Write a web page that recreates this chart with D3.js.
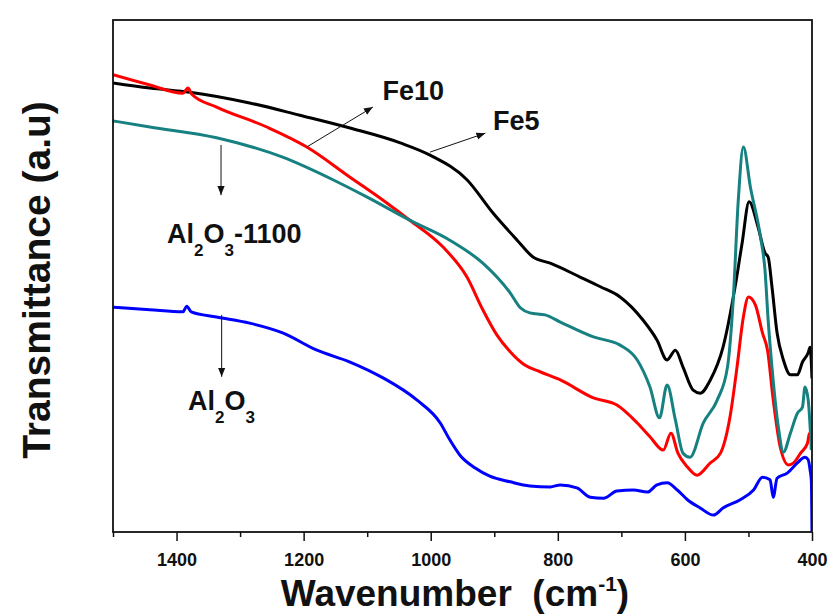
<!DOCTYPE html>
<html>
<head>
<meta charset="utf-8">
<script src="https://cdn.jsdelivr.net/npm/d3@7"></script>
<style>
  body { margin: 0; background: #fff; }
  text { font-family: Arial, "Liberation Sans", sans-serif; font-weight: bold; }
</style>
</head>
<body>
<svg id="chart" width="830" height="614"></svg>
<script>
// FTIR spectra, [wavenumber cm-1, transmittance a.u.]
const fe5 = [[1500,87.7],[1442,86.7],[1379,85.9],[1285,83.8],[1206,81.4],[1127,78.9],[1048,76.0],[1001,73.6],[943,68.8],[902,62.3],[864,57.0],[839,53.7],[812,52.5],[765,49.8],[733,47.9],[702,45.9],[666,41.4],[644,37.5],[628,33.6],[615,35.5],[603,32.2],[587,27.7],[576,27.1],[560,29.7],[540,36.1],[521,47.9],[510,56.4],[499,64.5],[485,59.6],[474,54.5],[469,53.7],[463,47.9],[455,38.9],[445,33.6],[434,30.7],[423,30.7],[415,33.2],[406,35.0],[403,36.1],[400,30.0]];
const fe10 = [[1500,89.3],[1442,87.3],[1390,85.7],[1382,86.7],[1376,85.5],[1337,83.0],[1258,79.1],[1195,75.2],[1127,69.3],[1075,64.8],[1033,60.9],[981,55.7],[943,49.8],[918,43.4],[896,38.5],[875,35.2],[852,32.6],[828,31.3],[796,29.7],[744,26.2],[707,24.8],[675,21.3],[655,18.6],[634,16.0],[622,19.3],[611,15.4],[596,12.7],[581,11.1],[560,13.5],[544,15.4],[529,22.5],[518,32.2],[508,42.0],[500,45.9],[489,44.3],[478,38.9],[470,35.5],[461,25.8],[450,16.6],[437,13.1],[429,13.5],[418,15.4],[407,17.4],[404,19.3],[400,18.0]];
const al1100 = [[1500,80.3],[1442,79.1],[1337,77.0],[1233,73.2],[1154,68.8],[1100,65.4],[1033,60.9],[970,57.0],[918,52.5],[875,46.7],[859,43.8],[844,42.8],[820,42.4],[796,41.0],[744,38.1],[702,36.5],[675,33.6],[655,28.3],[640,22.3],[628,28.7],[615,21.9],[603,15.4],[592,14.6],[571,21.3],[549,25.8],[533,32.2],[524,45.3],[516,64.8],[508,75.2],[497,67.4],[481,57.6],[474,51.2],[469,41.4],[463,32.2],[453,20.5],[445,15.6],[434,19.3],[423,23.2],[415,24.4],[411,28.3],[406,25.8],[401,16.0]];
const al2o3 = [[1500,43.9],[1442,43.4],[1390,43.0],[1384,44.1],[1377,43.0],[1337,42.0],[1285,40.8],[1233,38.9],[1179,35.5],[1127,33.2],[1075,30.1],[1022,25.8],[985,21.3],[970,18.0],[954,15.0],[930,12.5],[907,10.9],[875,9.8],[844,9.0],[812,8.8],[796,9.2],[770,8.6],[749,6.8],[728,6.6],[707,8.0],[681,8.2],[659,7.8],[644,9.2],[628,9.6],[612,8.2],[596,6.3],[576,4.7],[555,3.3],[540,4.7],[513,6.3],[492,8.2],[478,10.7],[466,10.2],[461,6.8],[455,10.5],[439,11.5],[423,13.5],[411,14.6],[406,14.1],[403,12.1],[401,10.0],[400,0]];

const seriesNames = ['Fe5', 'Fe10', 'Al2O3-1100', 'Al2O3'];
const seriesData = [fe5, fe10, al1100, al2o3];
const seriesColors = ['#000000', '#ff0000', '#178080', '#0000ff'];

const majorTicks = [1400, 1200, 1000, 800, 600, 400];
const minorTicks = [1500, 1300, 1100, 900, 700, 500];

const svg = d3.select('#chart');
const plotLeft = 113, plotRight = 812, plotTop = 20, plotBottom = 532;

const x = d3.scaleLinear().domain([1500, 400]).range([plotLeft, plotRight]);
const y = d3.scaleLinear().domain([0, 100]).range([plotBottom, plotTop]);

const defs = svg.append('defs');
defs.append('marker')
    .attr('id', 'arrow')
    .attr('viewBox', '0 0 10 10')
    .attr('refX', 10).attr('refY', 5)
    .attr('markerWidth', 9).attr('markerHeight', 9)
    .attr('markerUnits', 'userSpaceOnUse')
    .attr('orient', 'auto')
    .append('path')
    .attr('d', 'M0,1 L10,5 L0,9 Z')
    .attr('fill', '#111');

defs.append('clipPath').attr('id', 'plot')
    .append('rect')
    .attr('x', plotLeft).attr('y', plotTop)
    .attr('width', plotRight - plotLeft).attr('height', plotBottom - plotTop);

// bottom axis: major + minor ticks
svg.append('g')
    .attr('transform', `translate(0,${plotBottom})`)
    .call(d3.axisBottom(x).tickValues(minorTicks).tickSize(5).tickFormat(''))
    .call(g => g.select('.domain').remove())
    .call(g => g.selectAll('line').attr('stroke', '#111').attr('stroke-width', 1.5));

svg.append('g')
    .attr('transform', `translate(0,${plotBottom})`)
    .call(d3.axisBottom(x).tickValues(majorTicks).tickSize(9).tickPadding(12).tickFormat(d3.format('d')))
    .call(g => g.select('.domain').remove())
    .call(g => g.selectAll('line').attr('stroke', '#111').attr('stroke-width', 1.5))
    .call(g => g.selectAll('text')
        .attr('fill', '#111')
        .style('font-size', '18px'));

const line = d3.line()
    .x(d => x(d[0]))
    .y(d => y(d[1]))
    .curve(d3.curveMonotoneX);

svg.append('g')
    .attr('clip-path', 'url(#plot)')
    .selectAll('path')
    .data(seriesData)
    .enter()
    .append('path')
    .attr('d', line)
    .attr('fill', 'none')
    .attr('stroke', (d, i) => seriesColors[i])
    .attr('stroke-width', 3)
    .attr('stroke-linejoin', 'round');

// frame
svg.append('rect')
    .attr('x', plotLeft).attr('y', plotTop)
    .attr('width', plotRight - plotLeft).attr('height', plotBottom - plotTop)
    .attr('fill', 'none')
    .attr('stroke', '#111')
    .attr('stroke-width', 1.8);

// annotations: arrow from curve to label
const arrows = [
  {from: [1195, 75.2], to: [1091, 83.0]},
  {from: [1001, 74.2], to: [914, 77.9]},
  {from: [1330, 75.6], to: [1330, 65.8]},
  {from: [1329, 42.4], to: [1329, 30.3]}
];
svg.selectAll('.arrow')
    .data(arrows)
    .enter()
    .append('line')
    .attr('class', 'arrow')
    .attr('x1', d => x(d.from[0])).attr('y1', d => y(d.from[1]))
    .attr('x2', d => x(d.to[0])).attr('y2', d => y(d.to[1]))
    .attr('stroke', '#111')
    .attr('stroke-width', 1)
    .attr('marker-end', 'url(#arrow)');

const labels = [
  {pos: [1076, 84.4], parts: [['Fe10', 0]]},
  {pos: [902, 78.5], parts: [['Fe5', 0]]},
  {pos: [1415, 56.4], parts: [['Al', 0], ['2', 1], ['O', 0], ['3', 1], ['-1100', 0]]},
  {pos: [1382, 23.8], parts: [['Al', 0], ['2', 1], ['O', 0], ['3', 1]]}
];

labels.forEach(l => {
  const t = svg.append('text')
      .attr('x', x(l.pos[0]))
      .attr('y', y(l.pos[1]))
      .attr('fill', '#111')
      .style('font-size', '27px');
  let prevSub = 0;
  l.parts.forEach(p => {
    const shift = (p[1] ? 13 : 0) - (prevSub ? 13 : 0);
    t.append('tspan')
        .attr('dy', shift)
        .style('font-size', p[1] ? '17px' : '27px')
        .text(p[0]);
    prevSub = p[1];
  });
});

// axis titles
svg.append('text')
    .attr('transform', `translate(455,606)`)
    .attr('text-anchor', 'middle')
    .attr('fill', '#111')
    .style('font-size', '37px')
    .call(t => {
      t.append('tspan').text('Wavenumber\u00a0\u00a0(cm');
      t.append('tspan').attr('dy', -15).style('font-size', '21px').text('-1');
      t.append('tspan').attr('dy', 15).text(')');
    });

svg.append('text')
    .attr('transform', `translate(50,280) rotate(-90)`)
    .attr('text-anchor', 'middle')
    .attr('fill', '#111')
    .style('font-size', '39px')
    .text('Transmittance (a.u)');
</script>
</body>
</html>
